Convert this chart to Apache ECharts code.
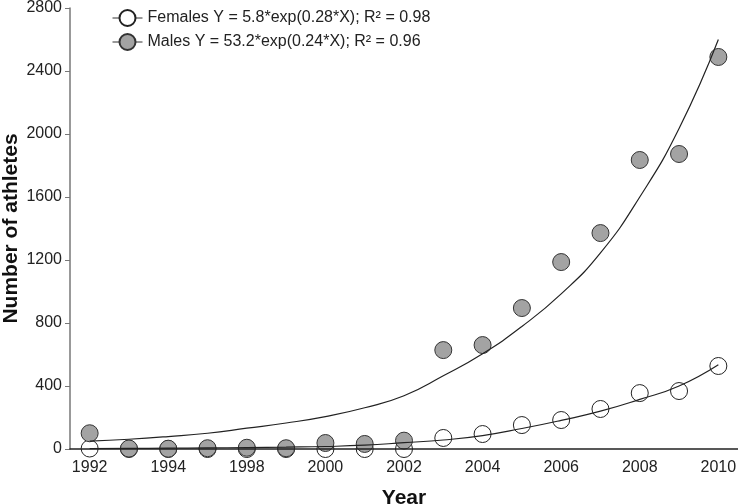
<!DOCTYPE html>
<html>
<head>
<meta charset="utf-8">
<script src="https://cdn.jsdelivr.net/npm/echarts@6/dist/echarts.min.js"></script>
<style>
html, body { margin: 0; background: #fff; }
#main { width: 738px; height: 504px; }
</style>
</head>
<body>
<div id="main"></div>
<script>
// years on the axis (1995 and 1997 are absent in the source)
var years = ['1992', '1993', '1994', '1996', '1998', '1999', '2000', '2001', '2002',
             '2003', '2004', '2005', '2006', '2007', '2008', '2009', '2010'];
var females = [3, 0, 0, 0, 0, 0, 0, 0, 0, 70, 95, 152, 184, 254, 355, 368, 527];
var males = [100, 3, 2, 5, 8, 5, 38, 32, 53, 628, 660, 895, 1187, 1371, 1835, 1873, 2489];
// fitted curves
var femalesFit = [3, 4, 5, 7, 9, 12, 16, 24, 40, 57, 85, 130, 182, 240, 315, 400, 535];
var malesFit = [50, 62, 79, 100, 132, 165, 206, 262, 338, 465, 605, 778, 985, 1245, 1600, 2035, 2600];

var femaleName = 'Females Y = 5.8*exp(0.28*X); R\u00b2 = 0.98';
var maleName = 'Males Y = 53.2*exp(0.24*X); R\u00b2 = 0.96';

var chartDom = document.getElementById('main');
var myChart = echarts.init(chartDom);
var font = 'Liberation Sans, Arial, sans-serif';
var option;

option = {
    animation: false,
    textStyle: { fontFamily: font },
    grid: { left: 70, right: 0, top: 8, bottom: 55, containLabel: false, outerBoundsMode: 'none' },
    legend: {
        orient: 'vertical',
        left: 107,
        top: 4,
        itemWidth: 30,
        itemHeight: 20,
        itemGap: 6,
        data: [femaleName, maleName],
        textStyle: { fontSize: 16, color: '#222', fontFamily: font },
        lineStyle: { width: 1, color: '#333', opacity: 1, type: 'solid' }
    },
    xAxis: {
        type: 'category',
        data: years,
        z: 5,
        name: 'Year',
        nameLocation: 'middle',
        nameGap: 39,
        nameMoveOverlap: false,
        nameTextStyle: { fontSize: 21, fontWeight: 'bold', color: '#111', fontFamily: font },
        axisLine: { lineStyle: { color: '#222', width: 1.5 } },
        axisTick: { alignWithLabel: true, interval: 1, length: 6, lineStyle: { color: '#222' } },
        axisLabel: { interval: 1, fontSize: 16, color: '#222', margin: 11 }
    },
    yAxis: {
        type: 'value',
        min: 0,
        max: 2800,
        interval: 400,
        name: 'Number of athletes',
        nameLocation: 'middle',
        nameGap: 48,
        nameMoveOverlap: false,
        nameTextStyle: { fontSize: 21, fontWeight: 'bold', color: '#111', fontFamily: font },
        splitLine: { show: false },
        axisLine: { show: true, lineStyle: { color: '#777', width: 1.5 } },
        axisTick: { show: true, length: 5, lineStyle: { color: '#777' } },
        axisLabel: { fontSize: 16, color: '#222', margin: 8, formatter: function (v) { return String(v); } }
    },
    series: [
        {
            name: femaleName,
            type: 'line',
            data: females,
            z: 2,
            symbol: 'circle',
            symbolSize: 17,
            showAllSymbol: true,
            lineStyle: { width: 0, opacity: 0 },
            itemStyle: { color: '#fff', borderColor: '#222', borderWidth: 1 }
        },
        {
            name: maleName,
            type: 'line',
            data: males,
            z: 3,
            symbol: 'circle',
            symbolSize: 17,
            showAllSymbol: true,
            lineStyle: { width: 0, opacity: 0 },
            itemStyle: { color: '#a3a3a3', borderColor: '#333', borderWidth: 1 }
        },
        {
            name: 'femalesFit',
            type: 'line',
            data: femalesFit,
            z: 4,
            smooth: true,
            symbol: 'none',
            lineStyle: { color: '#222', width: 1.2 }
        },
        {
            name: 'malesFit',
            type: 'line',
            data: malesFit,
            z: 4,
            smooth: true,
            symbol: 'none',
            lineStyle: { color: '#222', width: 1.2 }
        }
    ]
};

option && myChart.setOption(option);
</script>
</body>
</html>
